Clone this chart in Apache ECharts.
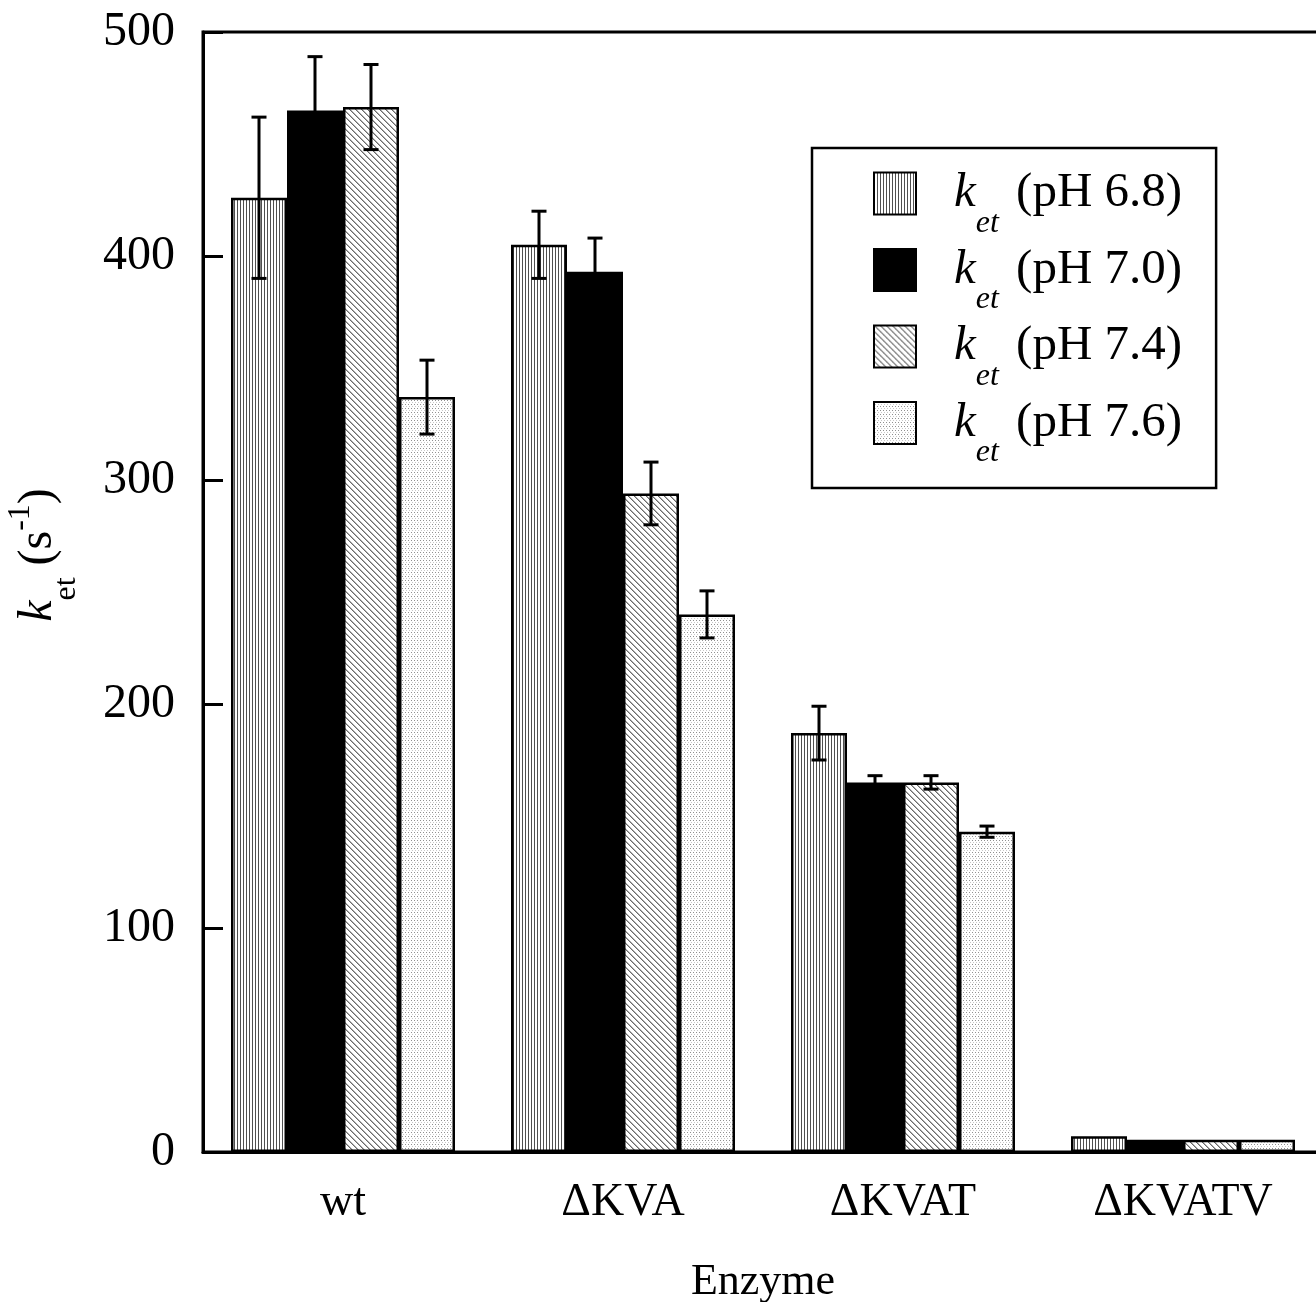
<!DOCTYPE html>
<html>
<head>
<meta charset="utf-8">
<script src="https://cdn.jsdelivr.net/npm/echarts@6/dist/echarts.min.js"></script>
<style>html,body{margin:0;padding:0;background:#fff}#c{width:1316px;height:1302px}</style>
</head>
<body>
<div id="c"></div>
<script>
var categories = ['wt', '\u0394KVA', '\u0394KVAT', '\u0394KVATV'];
var seriesNames = ['pH 6.8', 'pH 7.0', 'pH 7.4', 'pH 7.6'];
var ph68 = [426, 405, 187, 7];
var ph70 = [465, 393, 165, 5.5];
var ph74 = [466.5, 294, 165, 5.5];
var ph76 = [337, 240, 143, 5.5];
var err68 = [36, 15, 12, 0];
var err70 = [24, 15, 3, 0];
var err74 = [19, 14, 3, 0];
var err76 = [16.5, 10.5, 2.5, 0];
var yTicks = [0, 100, 200, 300, 400, 500];

var FONT = 'Liberation Serif';

function pat(w, h, draw) {
  var c = document.createElement('canvas');
  c.width = w; c.height = h;
  var ctx = c.getContext('2d');
  ctx.fillStyle = '#fff';
  ctx.fillRect(0, 0, w, h);
  draw(ctx, w, h);
  return { image: c, repeat: 'repeat' };
}
var patVert = pat(3, 1, function (ctx) { ctx.fillStyle = '#505050'; ctx.fillRect(0, 0, 1, 1); });
var patDiag = pat(6, 6, function (ctx) {
  for (var i = 0; i < 6; i++) {
    ctx.fillStyle = '#6a6a6a'; ctx.fillRect(i, i, 1, 1);
    ctx.fillStyle = '#b0b0b0'; ctx.fillRect((i + 1) % 6, i, 1, 1);
  }
});
var patDot = pat(3, 4, function (ctx) {
  ctx.fillStyle = '#909090'; ctx.fillRect(0, 0, 1, 1);
  ctx.fillStyle = '#c8c8c8'; ctx.fillRect(1, 2, 1, 1);
});
var fills = [patVert, '#000', patDiag, patDot];
var vals = [ph68, ph70, ph74, ph76];
var errs = [err68, err70, err74, err76];

function errRender(si) {
  return function (params, api) {
    var x = api.value(0), v = api.value(1), e = api.value(2);
    if (!e) return null;
    var c = api.coord([x, v]);
    var bw = api.size([1, 0])[0] * 0.8 / 4;
    var cx = c[0] + (si - 1.5) * bw;
    var top = api.coord([x, v + e])[1];
    var bot = api.coord([x, v - e])[1];
    var st = { stroke: '#000', lineWidth: 3 };
    return {
      type: 'group',
      children: [
        { type: 'line', shape: { x1: cx, y1: top, x2: cx, y2: bot }, style: st },
        { type: 'line', shape: { x1: cx - 7.5, y1: top, x2: cx + 7.5, y2: top }, style: st },
        { type: 'line', shape: { x1: cx - 7.5, y1: bot, x2: cx + 7.5, y2: bot }, style: st }
      ]
    };
  };
}

var series = [];
for (var i = 0; i < 4; i++) {
  series.push({
    name: seriesNames[i],
    type: 'bar',
    data: vals[i],
    barGap: '0%',
    barCategoryGap: '20%',
    itemStyle: { color: fills[i], borderColor: '#000', borderWidth: 2.5 },
    emphasis: { disabled: true },
    z: 2
  });
}
for (var j = 0; j < 4; j++) {
  series.push({
    name: 'err' + j,
    type: 'custom',
    renderItem: errRender(j),
    data: vals[j].map(function (v, k) { return [k, v, errs[j][k]]; }),
    z: 5,
    silent: true
  });
}

var chart = echarts.init(document.getElementById('c'));
chart.setOption({
  animation: false,
  backgroundColor: '#fff',
  grid: { left: 203, top: 32, width: 1120, height: 1120, outerBoundsMode: 'none', containLabel: false, show: true, borderColor: '#000', borderWidth: 3, backgroundColor: 'transparent' },
  legend: {
    data: seriesNames,
    orient: 'vertical',
    left: 812, top: 148,
    padding: [21, 34, 19, 61],
    itemWidth: 42, itemHeight: 42,
    itemGap: 6,
    backgroundColor: '#fff',
    borderColor: '#000', borderWidth: 2.5,
    icon: 'rect',
    selectedMode: false,
    formatter: function (name) { return '{sp|}{k|k}{sub|et}{g|}{n| (' + name + ')}'; },
    textStyle: {
      color: '#000', fontFamily: FONT, fontSize: 49,
      rich: {
        sp: { width: 33, fontSize: 49, lineHeight: 70 },
        k: { fontFamily: FONT, fontStyle: 'italic', fontSize: 49, lineHeight: 70, color: '#000' },
        sub: { fontFamily: FONT, fontStyle: 'italic', fontSize: 32, height: 10, verticalAlign: 'bottom', color: '#000' },
        g: { width: 5, fontSize: 49, lineHeight: 70 },
        n: { fontFamily: FONT, fontSize: 49, lineHeight: 70, color: '#000' }
      }
    }
  },
  xAxis: {
    type: 'category',
    data: categories,
    name: 'Enzyme',
    nameLocation: 'middle',
    nameGap: 108,
    nameTextStyle: { fontFamily: FONT, fontSize: 44, color: '#000' },
    axisLine: { lineStyle: { color: '#000', width: 3 } },
    axisTick: { inside: true, length: 20, lineStyle: { color: '#000', width: 3 } },
    axisLabel: { fontFamily: FONT, fontSize: 46, color: '#000', margin: 28 },
    splitLine: { show: false }
  },
  yAxis: {
    type: 'value',
    min: 0, max: 500, interval: 100,
    name: '{k|k}{sub|et}{n| (s}{sup|-1}{n|)}',
    nameLocation: 'middle',
    nameRotate: 90,
    nameGap: 130,
    nameTextStyle: {
      padding: [0, 0, 0, 74],
      rich: {
        k: { fontFamily: FONT, fontStyle: 'italic', fontSize: 48, lineHeight: 70, color: '#000' },
        sub: { fontFamily: FONT, fontSize: 32, height: 12, verticalAlign: 'bottom', color: '#000' },
        n: { fontFamily: FONT, fontSize: 48, lineHeight: 70, color: '#000' },
        sup: { fontFamily: FONT, fontSize: 32, height: 36, verticalAlign: 'top', color: '#000' }
      }
    },
    axisLine: { show: true, lineStyle: { color: '#000', width: 3 } },
    axisTick: { show: true, inside: true, length: 20, lineStyle: { color: '#000', width: 3 } },
    axisLabel: { fontFamily: FONT, fontSize: 48, color: '#000', margin: 28, formatter: function (v) { return yTicks.indexOf(v) >= 0 ? String(v) : ''; } },
    splitLine: { show: false }
  },
  series: series
});
</script>
</body>
</html>
